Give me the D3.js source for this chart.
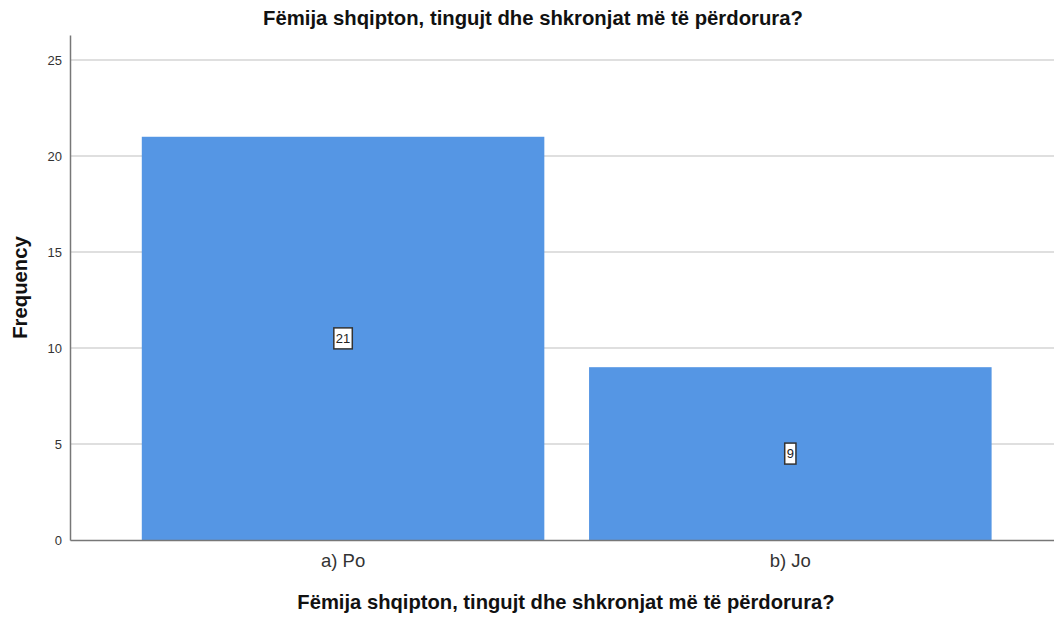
<!DOCTYPE html>
<html>
<head>
<meta charset="utf-8">
<script src="https://cdn.jsdelivr.net/npm/d3@7"></script>
<style>
  body { margin: 0; background: #fff; }
  text { font-family: "Liberation Sans", Arial, sans-serif; }
</style>
</head>
<body>
<script>
// Data
const categories = ["a) Po", "b) Jo"];
const frequencies = [21, 9];
const yTicks = [0, 5, 10, 15, 20, 25];
const titleText = "Fëmija shqipton, tingujt dhe shkronjat më të përdorura?";

const width = 1054;
const height = 617;
const margin = { top: 35, right: 0, bottom: 77, left: 70 };

const svg = d3.select("body")
  .append("svg")
  .attr("width", width)
  .attr("height", height);

// Scales
const xScale = d3.scaleBand()
  .domain(categories)
  .range([margin.left, width - margin.right])
  .paddingInner(0.1)
  .paddingOuter(0.15)
  .align(0.535);

const yScale = d3.scaleLinear()
  .domain([0, 26.3])
  .range([height - margin.bottom, margin.top]);

// Gridlines
svg.append("g")
  .selectAll("line")
  .data(yTicks.filter(d => d > 0))
  .enter()
  .append("line")
  .attr("x1", margin.left)
  .attr("x2", width - margin.right)
  .attr("y1", d => yScale(d))
  .attr("y2", d => yScale(d))
  .attr("stroke", "#d4d4d4")
  .attr("stroke-width", 1.5);

// Bars
svg.selectAll("rect.bar")
  .data(frequencies)
  .enter()
  .append("rect")
  .attr("class", "bar")
  .attr("x", (d, i) => xScale(categories[i]))
  .attr("y", d => yScale(d))
  .attr("width", xScale.bandwidth())
  .attr("height", d => yScale(0) - yScale(d))
  .attr("fill", "#5596e4");

// Y axis
const yAxis = d3.axisLeft(yScale)
  .tickValues(yTicks)
  .tickSize(0)
  .tickPadding(8);

const yG = svg.append("g")
  .attr("transform", `translate(${margin.left}, 0)`)
  .call(yAxis);
yG.select(".domain").attr("stroke", "#777").attr("stroke-width", 1.5);
yG.selectAll("text").attr("font-size", 13).attr("fill", "#333")
  .style("font-family", "'Liberation Sans', Arial, sans-serif");

// X axis
const xAxis = d3.axisBottom(xScale).tickSize(0).tickPadding(14);
const xG = svg.append("g")
  .attr("transform", `translate(0, ${yScale(0)})`)
  .call(xAxis);
xG.select(".domain").attr("stroke", "#777").attr("stroke-width", 1.5);
xG.selectAll("text").attr("font-size", 18.5).attr("fill", "#333")
  .style("font-family", "'Liberation Sans', Arial, sans-serif");

// Value labels
const labels = svg.selectAll("g.lbl")
  .data(frequencies)
  .enter()
  .append("g")
  .attr("class", "lbl")
  .attr("transform", (d, i) =>
    `translate(${xScale(categories[i]) + xScale.bandwidth() / 2}, ${yScale(d / 2)})`);

labels.append("text")
  .attr("text-anchor", "middle")
  .attr("dy", "0.36em")
  .attr("font-size", 13)
  .attr("fill", "#222")
  .text(d => d)
  .each(function() {
    const bb = this.getBBox();
    d3.select(this.parentNode).insert("rect", "text")
      .attr("x", bb.x - 2)
      .attr("y", -10.5)
      .attr("width", bb.width + 4)
      .attr("height", 21)
      .attr("fill", "#fff")
      .attr("stroke", "#333")
      .attr("stroke-width", 1.5);
  });

// Title
svg.append("text")
  .attr("x", 533)
  .attr("y", 25)
  .attr("text-anchor", "middle")
  .attr("font-size", 20.3)
  .attr("font-weight", "bold")
  .attr("fill", "#111")
  .text(titleText);

// X axis title
svg.append("text")
  .attr("x", 566)
  .attr("y", 609)
  .attr("text-anchor", "middle")
  .attr("font-size", 20.2)
  .attr("font-weight", "bold")
  .attr("fill", "#111")
  .text(titleText);

// Y axis title
svg.append("text")
  .attr("transform", `translate(27, ${(margin.top + yScale(0)) / 2}) rotate(-90)`)
  .attr("text-anchor", "middle")
  .attr("font-size", 20.3)
  .attr("font-weight", "bold")
  .attr("fill", "#111")
  .text("Frequency");
</script>
</body>
</html>
